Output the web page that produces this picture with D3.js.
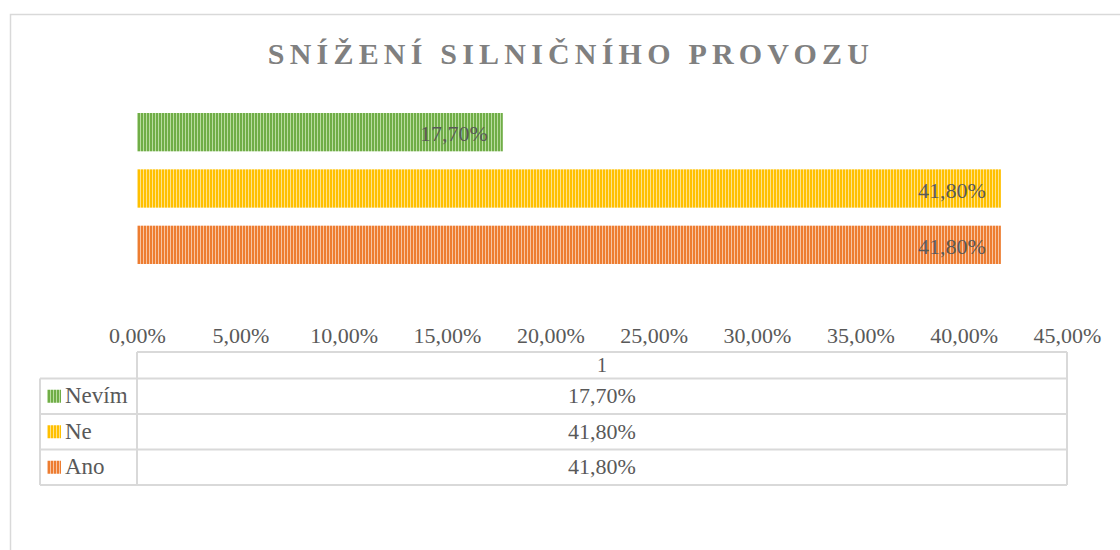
<!DOCTYPE html>
<html>
<head>
<meta charset="utf-8">
<script src="https://cdn.jsdelivr.net/npm/d3@7"></script>
<style>
  body { margin: 0; background: #fff; }
  text { font-family: "Liberation Serif", "Times New Roman", serif; fill: #595959; }
</style>
</head>
<body>
<svg id="chart" width="1120" height="550"></svg>
<script>
let width = 1120, height = 550;

let categories = ["Ano", "Ne", "Nevím"];
let values = [41.8, 41.8, 17.7];
let labels = ["41,80%", "41,80%", "17,70%"];
let colors = ["#ed7d31", "#ffc000", "#70ad47"];
let lightColors = ["#f8c4a2", "#ffe28a", "#b9dca0"];
let ticks = [0, 5, 10, 15, 20, 25, 30, 35, 40, 45];
let seriesName = "1";

let svg = d3.select('#chart');

// outer chart border (goes off the page right and bottom)
svg.append('rect')
    .attr('x', 10.5).attr('y', 14.5)
    .attr('width', 1200).attr('height', 600)
    .attr('fill', 'none')
    .attr('stroke', '#d9d9d9')
    .attr('stroke-width', 1.5);

// striped fills
let defs = svg.append('defs');
categories.forEach((c, i) => {
    let p = defs.append('pattern')
        .attr('id', 'pat' + i)
        .attr('width', 3).attr('height', 10)
        .attr('patternUnits', 'userSpaceOnUse');
    p.append('rect').attr('width', 3).attr('height', 10).attr('fill', lightColors[i]);
    p.append('rect').attr('width', 2).attr('height', 10).attr('fill', colors[i]);
});

svg.append('text')
    .attr('x', 571).attr('y', 64)
    .attr('text-anchor', 'middle')
    .style('font-size', '30px')
    .style('font-weight', 'bold')
    .style('letter-spacing', '5.2px')
    .style('fill', '#808080')
    .text("SNÍŽENÍ SILNIČNÍHO PROVOZU");

let x = d3.scaleLinear().domain([0, 45]).range([137, 1067]);
let y = d3.scaleBand().domain(categories).range([273, 104]).paddingInner(0.32).paddingOuter(0.16);

svg.selectAll('.bar')
    .data(categories)
    .enter().append('rect')
    .attr('class', 'bar')
    .attr('x', x(0))
    .attr('y', (d) => y(d))
    .attr('width', (d, i) => x(values[i]) - x(0))
    .attr('height', y.bandwidth())
    .attr('fill', (d, i) => 'url(#pat' + i + ')');

svg.selectAll('.lbl')
    .data(categories)
    .enter().append('text')
    .attr('class', 'lbl')
    .attr('x', (d, i) => x(values[i]) - 15)
    .attr('y', (d) => y(d) + y.bandwidth() / 2 + 9)
    .attr('text-anchor', 'end')
    .style('font-size', '22px')
    .text((d, i) => labels[i]);

// axis
let axis = svg.append('g')
    .attr('transform', 'translate(0,343)')
    .call(d3.axisTop(x).tickValues(ticks).tickSize(0).tickPadding(0)
        .tickFormat((d) => d.toFixed(2).replace('.', ',') + '%'));
axis.select('.domain').remove();
axis.selectAll('text')
    .style('font-size', '22px')
    .style('fill', '#595959')
    .style('font-family', '"Liberation Serif", serif');

// data table
let grid = svg.append('g')
    .attr('stroke', '#d9d9d9')
    .attr('stroke-width', 2)
    .attr('fill', 'none');
let rowTop = 378.5, rowH = 35.5, tableBottom = rowTop + rowH * 3;
grid.append('line').attr('x1', x(0)).attr('x2', x(0)).attr('y1', 352).attr('y2', tableBottom);
grid.append('line').attr('x1', x(45)).attr('x2', x(45)).attr('y1', 352).attr('y2', tableBottom);
grid.append('line').attr('x1', x(0)).attr('x2', x(45)).attr('y1', 352).attr('y2', 352);
grid.append('line').attr('x1', 40).attr('x2', 40).attr('y1', rowTop).attr('y2', tableBottom);
[0, 1, 2, 3].forEach((k) => {
    grid.append('line').attr('x1', 40).attr('x2', x(45))
        .attr('y1', rowTop + rowH * k).attr('y2', rowTop + rowH * k);
});

svg.append('text')
    .attr('x', (x(0) + x(45)) / 2).attr('y', 372)
    .attr('text-anchor', 'middle')
    .style('font-size', '20px')
    .text(seriesName);

let tableOrder = categories.slice().reverse();
tableOrder.forEach((c, k) => {
    let i = categories.indexOf(c);
    let cy = rowTop + rowH * k + rowH / 2;
    svg.append('rect')
        .attr('x', 47).attr('y', cy - 6.5)
        .attr('width', 14).attr('height', 13)
        .attr('fill', 'url(#pat' + i + ')');
    svg.append('text')
        .attr('x', 65).attr('y', cy + 7)
        .style('font-size', '23px')
        .text(c);
    svg.append('text')
        .attr('x', (x(0) + x(45)) / 2).attr('y', cy + 7)
        .attr('text-anchor', 'middle')
        .style('font-size', '22px')
        .text(labels[i]);
});
</script>
</body>
</html>
